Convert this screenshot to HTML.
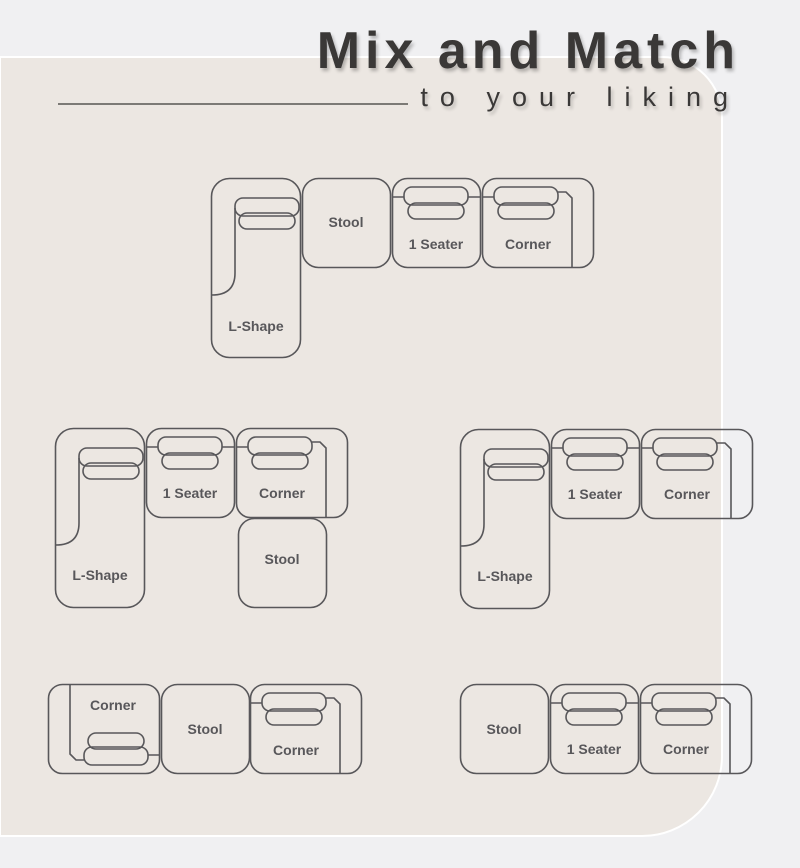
<!DOCTYPE html>
<html><head><meta charset="utf-8"><style>
html,body{margin:0;padding:0}
body{width:800px;height:863px;background:#f0f0f2;overflow:hidden;font-family:"Liberation Sans",sans-serif}
</style></head><body>
<svg width="800" height="863" viewBox="0 0 800 863" xmlns="http://www.w3.org/2000/svg">
<defs>
<g id="seat" fill="none" stroke="#58575a" stroke-width="1.6">
<rect x="0.5" y="0.5" width="88" height="89" rx="15"/>
<path d="M1,19 H12 M76,19 H88"/>
<rect x="12" y="9" width="64" height="18" rx="8"/>
<rect x="16" y="25" width="56" height="16" rx="8"/>
</g>
<g id="corner" fill="none" stroke="#58575a" stroke-width="1.6">
<rect x="0.5" y="0.5" width="111" height="89" rx="14"/>
<path d="M1,19 H12 M76,14 H84 L90,20 V90"/>
<rect x="12" y="9" width="64" height="18" rx="8"/>
<rect x="16" y="25" width="56" height="16" rx="8"/>
</g>
<g id="stool" fill="none" stroke="#58575a" stroke-width="1.6">
<rect x="0.5" y="0.5" width="88" height="89" rx="16"/>
</g>
<g id="lshape" fill="none" stroke="#58575a" stroke-width="1.6">
<rect x="0.5" y="0.5" width="89" height="179" rx="18"/>
<rect x="24" y="20" width="64" height="18" rx="8"/>
<rect x="28" y="35" width="56" height="16" rx="8"/>
<path d="M24,30 V95 Q24,117 1,117"/>
</g>
</defs>
<path d="M0,57 H662 A60,60 0 0 1 722,117 V756 A80,80 0 0 1 642,836 H0 Z" fill="#ece7e2" stroke="#ffffff" stroke-width="2"/>
<text x="740" y="68" text-anchor="end" font-size="52" font-weight="bold" fill="#3a3837" letter-spacing="5" style="text-shadow:2px 3px 3px rgba(0,0,0,.25)">Mix and Match</text>
<text x="740" y="106" text-anchor="end" font-size="27" fill="#3a3837" letter-spacing="12" style="text-shadow:2px 3px 3px rgba(0,0,0,.2)">to your liking</text>
<line x1="58" y1="104" x2="408" y2="104" stroke="#3a3837" stroke-width="1.2"/>
<g font-size="14" font-weight="bold" fill="#58575a" text-anchor="middle">
<use href="#lshape" x="211" y="178"/><text x="256" y="331">L-Shape</text>
<use href="#stool" x="302" y="178"/><text x="346" y="227">Stool</text>
<use href="#seat" x="392" y="178"/><text x="436" y="249">1 Seater</text>
<use href="#corner" x="482" y="178"/><text x="528" y="249">Corner</text>
<use href="#lshape" x="55" y="428"/><text x="100" y="580">L-Shape</text>
<use href="#seat" x="146" y="428"/><text x="190" y="498">1 Seater</text>
<use href="#corner" x="236" y="428"/><text x="282" y="498">Corner</text>
<use href="#stool" x="238" y="518"/><text x="282" y="564">Stool</text>
<use href="#lshape" x="460" y="429"/><text x="505" y="581">L-Shape</text>
<use href="#seat" x="551" y="429"/><text x="595" y="499">1 Seater</text>
<use href="#corner" x="641" y="429"/><text x="687" y="499">Corner</text>
<use href="#corner" transform="translate(160,774) rotate(180)"/><text x="113" y="710">Corner</text>
<use href="#stool" x="161" y="684"/><text x="205" y="734">Stool</text>
<use href="#corner" x="250" y="684"/><text x="296" y="755">Corner</text>
<use href="#stool" x="460" y="684"/><text x="504" y="734">Stool</text>
<use href="#seat" x="550" y="684"/><text x="594" y="754">1 Seater</text>
<use href="#corner" x="640" y="684"/><text x="686" y="754">Corner</text>
</g>
</svg>
</body></html>
